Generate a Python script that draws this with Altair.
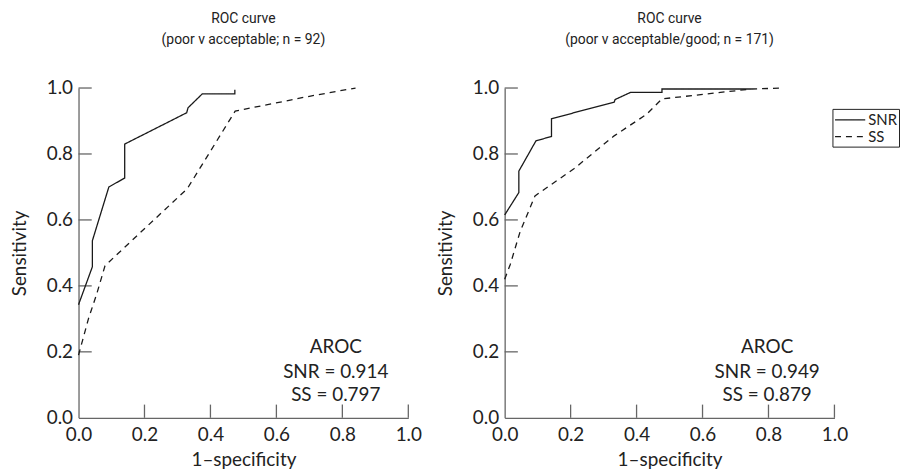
import altair as alt
import pandas as pd

FONT = "Lato"
TITLE_FONT = "Roboto"
AXIS_COLOR = "#666666"
LINE_COLOR = "#1a1a1a"

# ---- data ----
left_snr_x = [0.0, 0.042, 0.042, 0.092, 0.14, 0.14, 0.328, 0.332, 0.375, 0.474, 0.474]
left_snr_y = [0.343, 0.458, 0.537, 0.70, 0.727, 0.830, 0.925, 0.940, 0.982, 0.982, 0.995]
left_ss_x = [0.0, 0.03, 0.055, 0.08, 0.095, 0.33, 0.475, 0.70, 0.84]
left_ss_y = [0.19, 0.30, 0.375, 0.46, 0.475, 0.695, 0.93, 0.975, 1.0]

right_snr_x = [0.0, 0.043, 0.043, 0.095, 0.142, 0.142, 0.332, 0.335, 0.382, 0.477, 0.477, 0.748]
right_snr_y = [0.615, 0.683, 0.748, 0.840, 0.853, 0.907, 0.957, 0.965, 0.987, 0.987, 0.997, 0.997]
right_ss_x = [0.0, 0.017, 0.047, 0.072, 0.092, 0.21, 0.332, 0.43, 0.477, 0.748, 0.843]
right_ss_y = [0.42, 0.465, 0.565, 0.625, 0.673, 0.755, 0.855, 0.92, 0.967, 0.997, 1.0]

series_names = ["SNR", "SS"]
left_title = ["ROC curve", "(poor v acceptable; n = 92)"]
right_title = ["ROC curve", "(poor v acceptable/good; n = 171)"]
left_aroc = ["AROC", "SNR = 0.914", "SS = 0.797"]
right_aroc = ["AROC", "SNR = 0.949", "SS = 0.879"]
aroc_line_y = [0.214, 0.139, 0.069]
left_aroc_x = 0.78
right_aroc_x = 0.796

tick_values = [0.0, 0.2, 0.4, 0.6, 0.8, 1.0]
inner_ticks = [0.2, 0.4, 0.6, 0.8, 1.0]
tick_len = 0.04


def curve_df(xs, ys, name):
    return pd.DataFrame({"fpr": xs, "tpr": ys, "measure": name, "idx": list(range(len(xs)))})


def panel(snr, ss, title_lines, aroc_lines, aroc_x, show_legend):
    df = pd.concat([curve_df(snr[0], snr[1], series_names[0]),
                    curve_df(ss[0], ss[1], series_names[1])], ignore_index=True)
    xscale = alt.Scale(domain=[0, 1], nice=False, zero=False)
    yscale = alt.Scale(domain=[0, 1], nice=False, zero=False)
    xaxis = alt.Axis(title="1–specificity", values=tick_values, format=".1f", ticks=False,
                     grid=False, domainColor=AXIS_COLOR, domainWidth=1.3, labelFlush=False,
                     labelPadding=8, titlePadding=6)
    yaxis = alt.Axis(title="Sensitivity", values=tick_values, format=".1f", ticks=False,
                     grid=False, domainColor=AXIS_COLOR, domainWidth=1.3, labelFlush=False,
                     labelPadding=6, titlePadding=17)
    if show_legend:
        legend = alt.Legend(title=None, orient="none", legendX=330, legendY=21,
                            symbolType="M-2.8,0H1", symbolStrokeColor=LINE_COLOR,
                            symbolStrokeWidth=1.3, symbolSize=256, symbolOffset=14,
                            labelFont=FONT, labelFontSize=15, labelColor="#222222",
                            strokeColor="#222222", padding=2, rowPadding=0,
                            labelOffset=2)
    else:
        legend = None
    lines = alt.Chart(df).mark_line(color=LINE_COLOR, strokeWidth=1.3).encode(
        x=alt.X("fpr:Q", scale=xscale, axis=xaxis),
        y=alt.Y("tpr:Q", scale=yscale, axis=yaxis),
        strokeDash=alt.StrokeDash("measure:N",
                                  scale=alt.Scale(domain=series_names, range=[[1, 0], [6, 5]]),
                                  legend=legend),
        order="idx:Q",
    )
    ydf = pd.DataFrame({"v": inner_ticks})
    yticks = alt.Chart(ydf).mark_rule(color=AXIS_COLOR, strokeWidth=1.3).encode(
        y=alt.Y("v:Q", scale=yscale, axis=yaxis),
        x=alt.datum(0.0),
        x2=alt.datum(tick_len),
    )
    xticks = alt.Chart(ydf).mark_rule(color=AXIS_COLOR, strokeWidth=1.3).encode(
        x=alt.X("v:Q", scale=xscale, axis=xaxis),
        y=alt.datum(0.0),
        y2=alt.datum(tick_len),
    )
    tdf = pd.DataFrame({"x": [aroc_x] * len(aroc_lines), "y": aroc_line_y, "t": aroc_lines})
    text = alt.Chart(tdf).mark_text(font=FONT, fontSize=19, color="#222222",
                                    align="center", baseline="middle").encode(
        x=alt.X("x:Q", scale=xscale, axis=xaxis),
        y=alt.Y("y:Q", scale=yscale, axis=yaxis),
        text="t:N",
    )
    return alt.layer(yticks, xticks, lines, text).properties(
        width=332, height=332,
        title=alt.TitleParams(title_lines, font=TITLE_FONT, fontSize=14, fontWeight="normal",
                              color="#222222", anchor="middle", offset=32, lineHeight=21),
    )


left = panel((left_snr_x, left_snr_y), (left_ss_x, left_ss_y), left_title, left_aroc, left_aroc_x, False)
right = panel((right_snr_x, right_snr_y), (right_ss_x, right_ss_y), right_title, right_aroc, right_aroc_x, True)

chart = alt.hconcat(left, right, spacing=14).resolve_legend(strokeDash="independent").configure_view(
    stroke=None
).configure_axis(
    labelFont=FONT, labelFontSize=19, labelColor="#222222",
    titleFont=FONT, titleFontSize=19, titleColor="#222222", titleFontWeight="normal",
).properties(padding={"left": 2, "top": 3, "right": 0, "bottom": 0})

chart.save("out.html", embed_options={"renderer": "svg", "actions": False})
